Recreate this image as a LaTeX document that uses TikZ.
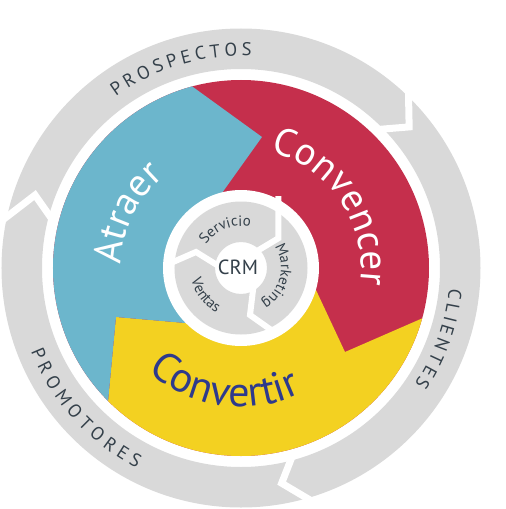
\documentclass[tikz,border=0pt]{standalone}
\usepackage{fontspec}
\setmainfont{PT Sans}
\usetikzlibrary{calc,decorations.text}
\definecolor{ringgrey}{HTML}{D9D9D9}
\definecolor{cblue}{HTML}{6CB6CC}
\definecolor{cred}{HTML}{C52F4C}
\definecolor{cyellow}{HTML}{F3D121}
\definecolor{txtdark}{HTML}{34404A}
\definecolor{txtblue}{HTML}{2E3A8C}
\newcommand{\ringfont}{\fontsize{18.5pt}{18.5pt}\selectfont}
\newcommand{\bigfont}{\fontsize{39pt}{39pt}\selectfont}
\newcommand{\convfont}{\fontsize{42pt}{42pt}\selectfont}
\newcommand{\smallfont}{\fontsize{15pt}{15pt}\selectfont}
\begin{document}
\begin{tikzpicture}[x=1pt,y=1pt,
  outergap/.style={draw=white,line width=7pt,line join=miter},
  innergap/.style={draw=white,line width=6pt,line join=miter}]
\useasboundingbox (-241,-241) rectangle (265,268);
% ---- outer grey ring
\fill[ringgrey,even odd rule] (0,0) circle[radius=239.5pt] (0,0) circle[radius=199pt];
\coordinate (ga-o) at (45.6:239.5); \coordinate (ga-m) at (40:219.5); \coordinate (ga-i) at (44.3:199);
\coordinate (gb-o) at (-74:239.5); \coordinate (gb-m) at (-79.3:219); \coordinate (gb-i) at (-75.6:199);
\coordinate (gc-o) at (167.6:239.5); \coordinate (gc-m) at (160.5:218.5); \coordinate (gc-i) at (164.6:199);
\draw[outergap] ($(ga-m)!1.35!(ga-o)$) -- (ga-m) -- ($(ga-m)!1.35!(ga-i)$);
\draw[outergap] ($(gb-m)!1.35!(gb-o)$) -- (gb-m) -- ($(gb-m)!1.35!(gb-i)$);
\draw[outergap] ($(gc-m)!1.35!(gc-o)$) -- (gc-m) -- ($(gc-m)!1.35!(gc-i)$);
% ---- coloured ring
\begin{scope}
\clip (0,0) circle[radius=188pt];
\coordinate (b1-i) at (-19,75); \coordinate (b1-m) at (21,131); \coordinate (b1-o) at (-82.5,206);
\coordinate (b2-i) at (75,-22); \coordinate (b2-m) at (104,-84); \coordinate (b2-o) at (221,-33);
\coordinate (b3-i) at (-56,-55); \coordinate (b3-m) at (-125,-49); \coordinate (b3-o) at (-137,-176.5);
\fill[cred] (0,0) circle[radius=190pt];
\fill[cyellow] (0,0) -- (b2-i) -- (b2-m) -- (b2-o) -- (300,-33) -- (300,-300) -- (-137,-300) -- (b3-o) -- (b3-m) -- (b3-i) -- cycle;
\fill[cblue] (0,0) -- (b3-i) -- (b3-m) -- (b3-o) -- (-137,-300) -- (-300,-300) -- (-300,300) -- (-82.5,300) -- (b1-o) -- (b1-m) -- (b1-i) -- cycle;
\end{scope}
% ---- inner ring
\fill[white] (0,0) circle[radius=78pt];
\fill[ringgrey,even odd rule] (0,0) circle[radius=66.5pt] (0,0) circle[radius=26pt];
\coordinate (ha-o) at (37.3,72); \coordinate (ha-m) at (37.3,29.7); \coordinate (ha-i) at (14,15.7);
\coordinate (hb-o) at (33,-64); \coordinate (hb-m) at (9,-47); \coordinate (hb-i) at (12.5,-18);
\coordinate (hc-o) at (-73,3.8); \coordinate (hc-m) at (-45,16); \coordinate (hc-i) at (-20,0.5);
\draw[innergap] (ha-o) -- (ha-m) -- (ha-i);
\draw[innergap] (hb-o) -- (hb-m) -- (hb-i);
\draw[innergap] (hc-o) -- (hc-m) -- (hc-i);
% ---- texts
\node[font=\fontsize{20.5pt}{20.5pt}\selectfont, text=txtdark, inner sep=0pt] (crm) at (-3,1) {CRM};
\path[decorate,decoration={text along path,text={|\ringfont|PROSPECTOS},text align={fit to path},text color=txtdark}]
  (126.2:212) arc[start angle=126.2,end angle=87.2,radius=212pt];
\path[decorate,decoration={text along path,text={|\ringfont|CLIENTES},text align={fit to path},text color=txtdark}]
  (-5.5:209) arc[start angle=-5.5,end angle=-33.8,radius=209pt];
\path[decorate,decoration={text along path,text={|\ringfont|PROMOTORES},text align={fit to path},text color=txtdark}]
  (201.7:226) arc[start angle=201.7,end angle=242.5,radius=226pt];
\path[decorate,decoration={text along path,text={|\bigfont|Atraer},text align=center,text color=white}]
  (214.3:120) arc[start angle=214.3,end angle=94.3,radius=120pt];
\path[decorate,decoration={text along path,text={|\bigfont|Convencer},text align=center,text color=white}]
  (94:120) arc[start angle=94,end angle=-26,radius=120pt];
\path[decorate,decoration={text along path,text={|\convfont|Convertir},text align=center,text color=txtblue}]
  (-158.1:139) arc[start angle=-158.1,end angle=-38.1,radius=139pt];
\path[decorate,decoration={text along path,text={|\smallfont|Servicio},text align=center,text color=txtdark}]
  (171.9:42) arc[start angle=171.9,end angle=51.9,radius=42pt];
\path[decorate,decoration={text along path,text={|\smallfont|Marketing},text align=center,text color=txtdark}]
  (46.75:40) arc[start angle=46.75,end angle=-73.25,radius=40pt];
\path[decorate,decoration={text along path,text={|\smallfont|Ventas},text align=center,text color=txtdark}]
  (156.9:51) arc[start angle=156.9,end angle=276.9,radius=51pt];
\end{tikzpicture}
\end{document}
